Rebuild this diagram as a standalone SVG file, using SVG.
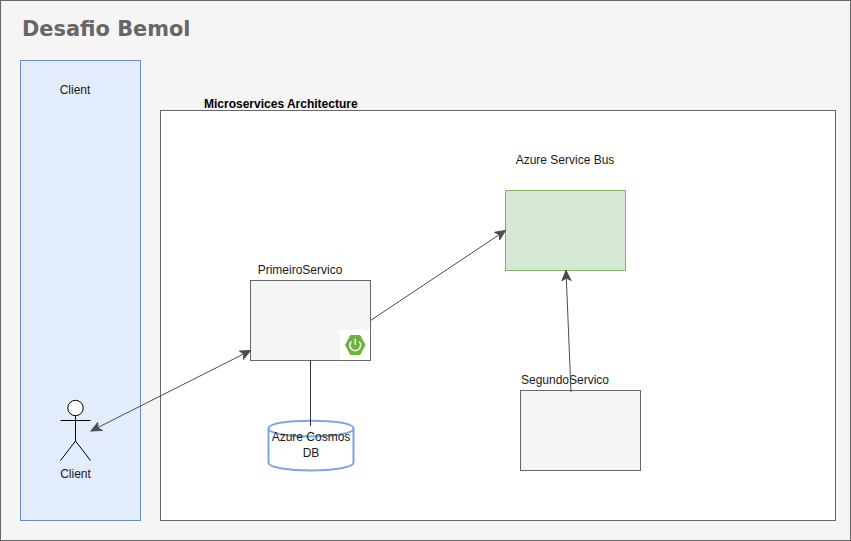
<svg xmlns="http://www.w3.org/2000/svg" width="851" height="541" viewBox="0 0 851 541">
<style>
text{font-family:"Liberation Sans",Arial,sans-serif;font-size:12px;fill:#1a1a1a}
.m{text-anchor:middle}
.box{fill:#f5f5f5;stroke:#666666;stroke-width:1}
.c{fill:none;stroke:#4d4d4d;stroke-width:1}
.ah{fill:#4d4d4d;stroke:#4d4d4d}
.act{fill:none;stroke:#000;stroke-width:1}
</style>
<defs>
<marker id="arr" markerUnits="userSpaceOnUse" markerWidth="12" markerHeight="11" refX="10.500" refY="5" orient="auto-start-reverse">
<path d="M0.5 0.5L10.500 5L0.5 9.500L3 5Z" class="ah" stroke-width="1"/>
</marker>
</defs>
<rect width="851" height="541" fill="#ffffff"/>
<g id="frame">
<rect x="0.5" y="0.5" width="850" height="540" class="box"/>
<text x="22" y="36" style="font-family:'DejaVu Sans',sans-serif;font-size:20.900px;font-weight:bold;fill:#666666">Desafio Bemol</text>
</g>
<g id="client-lane">
<rect x="20.5" y="60.5" width="120" height="460" fill="#e3ecfb" stroke="#6c8ebf"/>
<text x="75" y="94" class="m">Client</text>
</g>
<g id="microservices">
<rect x="160.5" y="110.5" width="675" height="410" fill="#ffffff" stroke="#666666"/>
<text x="204" y="108" style="font-weight:bold;font-size:12px;fill:#000">Microservices Architecture</text>
</g>
<g id="service-bus">
<rect x="505.5" y="190.5" width="120" height="80" fill="#d5e8d4" stroke="#82b366"/>
<text x="565" y="164" class="m">Azure Service Bus</text>
</g>
<g id="primeiro">
<rect x="250.5" y="280.5" width="120" height="80" class="box"/>
<text x="300" y="274" class="m">PrimeiroServico</text>
<rect x="340" y="330" width="30" height="30" fill="#ffffff"/>
<path d="M350.5 335.5h9.5l5 9.5l-5 9.5h-9.5l-5-9.5Z" fill="#6db33f" stroke="#6db33f" stroke-linejoin="round"/>
<path d="M351.4 341.5a5.4 5.4 0 1 0 7.7 0" fill="none" stroke="#fff" stroke-width="1.4"/>
<path d="M355.2 338.8v6" fill="none" stroke="#fff" stroke-width="1.4"/>
</g>
<g id="segundo">
<rect x="520.5" y="390.5" width="120" height="80" class="box"/>
<text x="565" y="384" class="m">SegundoServico</text>
</g>
<g id="cosmos">
<path d="M268.500 428.500c0-10.500 85-10.500 85 0v34c0 10.500-85 10.500-85 0Z" fill="#ffffff" stroke="#7ea6e0" stroke-width="2"/>
<path d="M268.500 428.500c0 10.500 85 10.500 85 0" fill="none" stroke="#7ea6e0" stroke-width="2"/>
<text x="311" y="441" class="m">Azure Cosmos</text>
<text x="311" y="457" class="m">DB</text>
</g>
<g id="actor">
<circle cx="75.500" cy="408" r="7.700" fill="#ffffff" stroke="#000"/>
<path d="M75.500 415.700V441M60.500 420.500H90.500M75.500 441L60.500 460.500M75.500 441L90.500 460.500" class="act"/>
<text x="75.500" y="478" class="m">Client</text>
</g>
<g id="connectors">
<path d="M91 431L250.500 350.500" class="c" marker-start="url(#arr)" marker-end="url(#arr)"/>
<path d="M370.500 320.500L505.500 230.500" class="c" marker-end="url(#arr)"/>
<path d="M310.500 360.500V426" class="c" style="stroke:#333"/>
<path d="M571 392L566 270.500" class="c" marker-end="url(#arr)"/>
</g>
</svg>
